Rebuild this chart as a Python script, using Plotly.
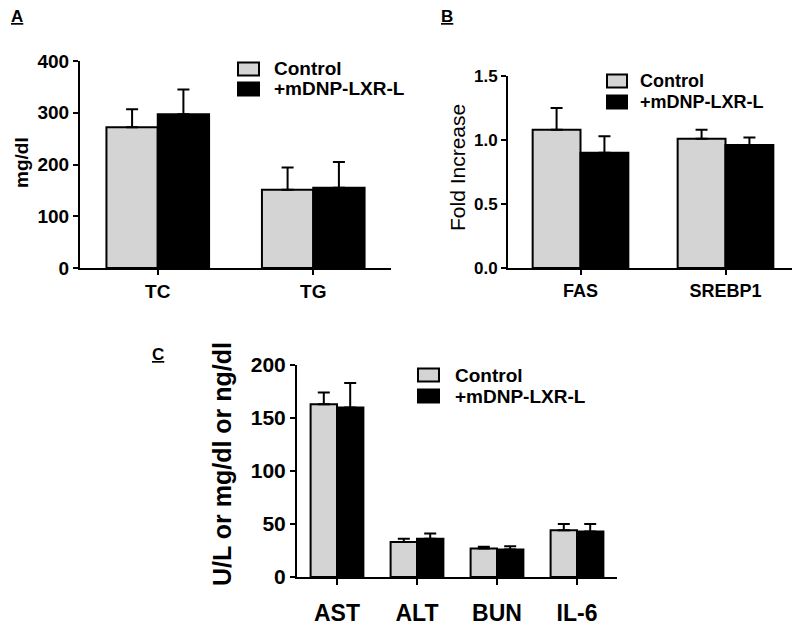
import plotly.graph_objects as go

W, H = 800, 624
PAGE_OFFSET = 8  # default body margin of the html page

# ---------------- data ----------------
series_names = ["Control", "+mDNP-LXR-L"]

a_categories = ["TC", "TG"]
a_control = [272, 151]
a_control_err = [35, 43]
a_treated = [297, 155]
a_treated_err = [48, 50]
a_ticks = [0, 100, 200, 300, 400]

b_categories = ["FAS", "SREBP1"]
b_control = [1.08, 1.01]
b_control_err = [0.17, 0.07]
b_treated = [0.90, 0.96]
b_treated_err = [0.13, 0.06]
b_ticks = [0.0, 0.5, 1.0, 1.5]

c_categories = ["AST", "ALT", "BUN", "IL-6"]
c_control = [163, 33, 27, 44]
c_control_err = [11, 3, 1.5, 6]
c_treated = [160, 36, 26, 43]
c_treated_err = [23, 5, 3, 7]
c_ticks = [0, 50, 100, 150, 200]

CONTROL_COLOR = "#d4d4d4"
TREATED_COLOR = "#000000"
FONT = "Liberation Sans, Arial, sans-serif"


def px(x):
    return (x - PAGE_OFFSET) / W


def py(y):
    return 1 - (y - PAGE_OFFSET) / H


fig = go.Figure()

panels = [
    ("x", "y", a_categories, a_control, a_control_err, a_treated, a_treated_err),
    ("x2", "y2", b_categories, b_control, b_control_err, b_treated, b_treated_err),
    ("x3", "y3", c_categories, c_control, c_control_err, c_treated, c_treated_err),
]

for xa, ya, cats, ctl, ctl_e, trt, trt_e in panels:
    for name, vals, errs, col in [
        (series_names[0], ctl, ctl_e, CONTROL_COLOR),
        (series_names[1], trt, trt_e, TREATED_COLOR),
    ]:
        fig.add_trace(go.Bar(
            x=cats, y=vals, name=name, xaxis=xa, yaxis=ya,
            marker=dict(color=col, line=dict(color="black", width=2)),
            error_y=dict(type="data", symmetric=False, array=errs,
                         arrayminus=[0] * len(errs), color="black",
                         thickness=2, width=6),
            showlegend=False,
        ))

axis_common = dict(
    showgrid=False, zeroline=False, showline=True, linecolor="black",
    linewidth=2, ticks="outside", tickcolor="black", tickwidth=2,
    fixedrange=True, automargin=False,
)

# panel geometry (pixels in the page)
A_X0, A_X1, A_YT, A_YB = 80, 391, 61, 268
B_X0, B_X1, B_YT, B_YB = 508, 798, 76, 268
C_X0, C_X1, C_YT, C_YB = 297, 617, 365, 577

fig.update_layout(
    width=W, height=H,
    margin=dict(l=0, r=0, t=0, b=0, pad=0, autoexpand=False),
    paper_bgcolor="white", plot_bgcolor="white",
    barmode="group", bargap=0.34, bargroupgap=0,
    font=dict(family=FONT, color="black"),
    xaxis=dict(axis_common, domain=[px(A_X0), px(A_X1)], anchor="y",
               range=[-0.5, 1.5], ticklen=5,
               tickfont=dict(size=19, weight="bold")),
    yaxis=dict(axis_common, domain=[py(A_YB), py(A_YT)], anchor="x",
               range=[0, 400], tickvals=a_ticks, ticklen=5,
               tickfont=dict(size=19, weight="bold")),
    xaxis2=dict(axis_common, domain=[px(B_X0), px(B_X1)], anchor="y2",
                range=[-0.5, 1.5], ticklen=5,
                tickfont=dict(size=18, weight="bold")),
    yaxis2=dict(axis_common, domain=[py(B_YB), py(B_YT)], anchor="x2",
                range=[0, 1.5], tickvals=b_ticks, tickformat=".1f",
                ticklen=5, tickfont=dict(size=17, weight="bold")),
    xaxis3=dict(axis_common, domain=[px(C_X0), px(C_X1)], anchor="y3",
                range=[-0.5, 3.5], ticklen=6, ticklabelstandoff=8,
                tickfont=dict(size=23, weight="bold")),
    yaxis3=dict(axis_common, domain=[py(C_YB), py(C_YT)], anchor="x3",
                range=[0, 200], tickvals=c_ticks, ticklen=5,
                tickfont=dict(size=21, weight="bold")),
)

annotations = []
shapes = []

# panel letters
for letter, x, y in [("A", 17, 17), ("B", 447, 17), ("C", 158, 354)]:
    annotations.append(dict(
        text=f"<u>{letter}</u>", x=px(x), y=py(y), xref="paper", yref="paper",
        showarrow=False, xanchor="center", yanchor="middle",
        font=dict(size=17, weight="bold", family=FONT)))

# axis titles
for text, x, y, size, weight in [
    ("mg/dl", 21, 163, 19, "bold"),
    ("Fold Increase", 457, 168, 21, "normal"),
    ("U/L or mg/dl or ng/dl", 222, 464, 25, "bold"),
]:
    annotations.append(dict(
        text=text, x=px(x), y=py(y), xref="paper", yref="paper",
        showarrow=False, textangle=-90, xanchor="center", yanchor="middle",
        font=dict(size=size, weight=weight, family=FONT)))

# custom legends: (swatch x0, x1, row centres, text x, font size)
legend_specs = [
    (238, 259, [69, 89], 272, 19),
    (607, 627, [81, 102], 638, 18),
    (418, 439, [375, 396], 453, 19),
]
for sx0, sx1, rows, tx, fsize in legend_specs:
    for name, col, yc in zip(series_names, [CONTROL_COLOR, TREATED_COLOR], rows):
        shapes.append(dict(
            type="rect", xref="paper", yref="paper",
            x0=px(sx0), x1=px(sx1), y0=py(yc + 6.5), y1=py(yc - 6.5),
            fillcolor=col, line=dict(color="black", width=2)))
        annotations.append(dict(
            text=name, x=px(tx), y=py(yc), xref="paper", yref="paper",
            showarrow=False, xanchor="left", yanchor="middle",
            font=dict(size=fsize, weight="bold", family=FONT)))

fig.update_layout(annotations=annotations, shapes=shapes)

fig.write_html("out.html")
